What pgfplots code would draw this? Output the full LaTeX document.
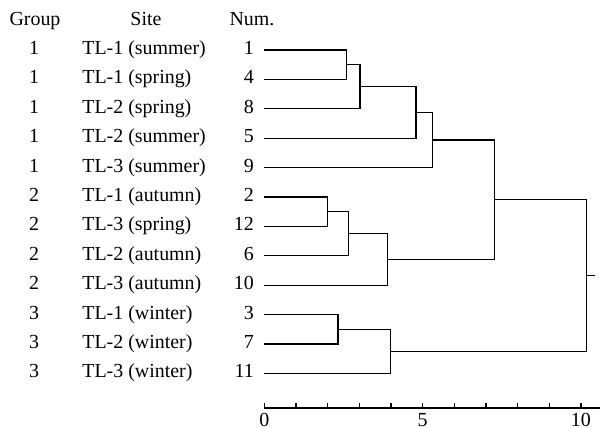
\documentclass[border=0pt]{standalone}
\usepackage{fontspec}
\setmainfont{Liberation Serif}
\usepackage{pgfplots}
\pgfplotsset{compat=1.18}
\newcommand\rowlab[4]{%
  \node[anchor=base, inner sep=0pt] at ([xshift=-115.15bp,yshift=-2.25bp]axis cs:0,-#1) {#2};
  \node[anchor=base west, inner sep=0pt] at ([xshift=-91.15bp,yshift=-2.25bp]axis cs:0,-#1) {#3};
  \node[anchor=base east, inner sep=0pt] at ([xshift=-5bp,yshift=-2.25bp]axis cs:0,-#1) {#4};
}
\begin{document}
\begin{tikzpicture}[font=\rmfamily\fontsize{10}{12}\selectfont]
\begin{axis}[
  x=15.83bp, y=14.7bp,
  xmin=0, xmax=10.61, ymin=-13.18, ymax=0,
  axis x line*=bottom, axis y line=none,
  xtick pos=lower,
  xtick={0,1,...,10},
  xticklabels={0,,,,,5,,,,,10},
  tick align=inside,
  major tick length=2.6bp,
  tick style={black, line width=0.6pt},
  axis line style={black, line width=0.6pt},
  xticklabel style={inner sep=0pt, yshift=-2.3bp, font=\rmfamily\fontsize{10}{12}\selectfont},
  /pgf/number format/assume math mode=true,
  clip=false,
  dend/.style={black, line width=0.6pt, mark=none, solid},
]
\addplot[dend] coordinates {(0,-1) (2.60,-1) (2.60,-2) (0,-2)};
\addplot[dend] coordinates {(2.60,-1.5) (3.02,-1.5) (3.02,-3) (0,-3)};
\addplot[dend] coordinates {(3.02,-2.25) (4.79,-2.25) (4.79,-4) (0,-4)};
\addplot[dend] coordinates {(4.79,-3.125) (5.32,-3.125) (5.32,-5) (0,-5)};
\addplot[dend] coordinates {(0,-6) (2.00,-6) (2.00,-7) (0,-7)};
\addplot[dend] coordinates {(2.00,-6.5) (2.66,-6.5) (2.66,-8) (0,-8)};
\addplot[dend] coordinates {(2.66,-7.25) (3.90,-7.25) (3.90,-9) (0,-9)};
\addplot[dend] coordinates {(5.32,-4.0625) (7.28,-4.0625) (7.28,-8.125) (3.90,-8.125)};
\addplot[dend] coordinates {(0,-10) (2.33,-10) (2.33,-11) (0,-11)};
\addplot[dend] coordinates {(2.33,-10.5) (3.99,-10.5) (3.99,-12) (0,-12)};
\addplot[dend] coordinates {(7.28,-6.09375) (10.18,-6.09375) (10.18,-11.25) (3.99,-11.25)};
\addplot[dend] coordinates {(10.18,-8.671875) (10.44,-8.671875)};
\node[anchor=base] at ([xshift=-114.65bp,yshift=-2.25bp]axis cs:0,0) {Group};
\node[anchor=base] at ([xshift=-59.15bp,yshift=-2.25bp]axis cs:0,0) {Site};
\node[anchor=base] at ([xshift=-6.15bp,yshift=-2.25bp]axis cs:0,0) {Num.};
\rowlab{1}{1}{TL-1 (summer)}{1}
\rowlab{2}{1}{TL-1 (spring)}{4}
\rowlab{3}{1}{TL-2 (spring)}{8}
\rowlab{4}{1}{TL-2 (summer)}{5}
\rowlab{5}{1}{TL-3 (summer)}{9}
\rowlab{6}{2}{TL-1 (autumn)}{2}
\rowlab{7}{2}{TL-3 (spring)}{12}
\rowlab{8}{2}{TL-2 (autumn)}{6}
\rowlab{9}{2}{TL-3 (autumn)}{10}
\rowlab{10}{3}{TL-1 (winter)}{3}
\rowlab{11}{3}{TL-2 (winter)}{7}
\rowlab{12}{3}{TL-3 (winter)}{11}
\coordinate (bl) at (axis cs:0,-13.18);
\end{axis}
\pgfresetboundingbox
\path[use as bounding box] ([xshift=-132.15bp,yshift=-10bp]bl) rectangle ++(300.5bp,214bp);
\end{tikzpicture}
\end{document}
